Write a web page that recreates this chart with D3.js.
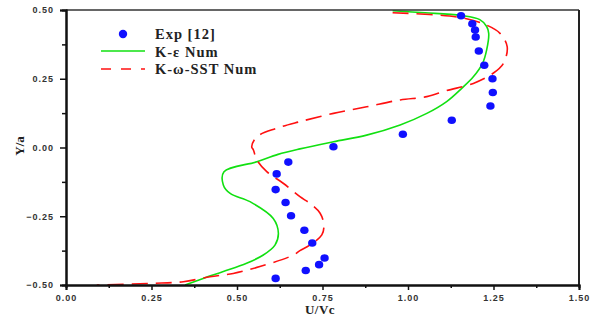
<!DOCTYPE html>
<html>
<head>
<meta charset="utf-8">
<script src="https://cdn.jsdelivr.net/npm/d3@7"></script>
<style>
  body { margin: 0; background: #fff; }
  svg { display: block; }
  .tick text { font-family: "Liberation Sans", Arial, sans-serif; font-weight: bold; font-size: 9px; fill: #333; letter-spacing: 1px; }
  .lbl { font-family: "Liberation Serif", "Times New Roman", serif; font-weight: bold; fill: #222; }
</style>
</head>
<body>
<div id="chart"></div>
<script>
const W = 600
const H = 322

// x / y tick values
const xTicks = [0, 0.25, 0.5, 0.75, 1.0, 1.25, 1.5]
const xMinor = [0.125, 0.375, 0.625, 0.875, 1.125, 1.375]
const yTicks = [-0.5, -0.25, 0, 0.25, 0.5]
const yMinor = [-0.375, -0.125, 0.125, 0.375]

// Exp [12]
const expU = [1.155, 1.188, 1.196, 1.198, 1.207, 1.223, 1.247, 1.248, 1.241, 1.128, 0.985, 0.782,
  0.650, 0.616, 0.613, 0.642, 0.658, 0.697, 0.720, 0.756, 0.740, 0.701, 0.613]
const expY = [0.479, 0.45, 0.427, 0.402, 0.351, 0.299, 0.25, 0.20, 0.151, 0.099, 0.048, 0.003,
  -0.053, -0.096, -0.153, -0.2, -0.248, -0.301, -0.347, -0.402, -0.426, -0.447, -0.476]

// K-eps Num
const keU = [0.955, 1.05, 1.155, 1.21, 1.23, 1.236, 1.23, 1.218, 1.191, 1.157, 1.113, 1.055, 0.977,
  0.879, 0.782, 0.684, 0.62, 0.558, 0.462, 0.460, 0.48, 0.538, 0.606, 0.621, 0.611, 0.577, 0.528,
  0.46, 0.401, 0.348]
const keY = [0.497, 0.49, 0.48, 0.465, 0.44, 0.415, 0.355, 0.306, 0.257, 0.215, 0.167, 0.124, 0.082,
  0.045, 0.021, -0.005, -0.025, -0.052, -0.088, -0.136, -0.167, -0.197, -0.258, -0.312, -0.355,
  -0.391, -0.421, -0.451, -0.476, -0.5]

// K-omega-SST Num
const sstU = [0.955, 1.152, 1.23, 1.269, 1.29, 1.279, 1.249, 1.191, 1.113, 1.055, 0.977, 0.879,
  0.782, 0.684, 0.616, 0.558, 0.543, 0.548, 0.558, 0.587, 0.635, 0.684, 0.713, 0.743, 0.754,
  0.748, 0.713, 0.684, 0.665, 0.567, 0.489, 0.421, 0.343, 0.255, 0.09]
const sstY = [0.49, 0.473, 0.445, 0.415, 0.367, 0.306, 0.27, 0.233, 0.207, 0.185, 0.173, 0.148,
  0.124, 0.094, 0.07, 0.039, 0.003, -0.009, -0.045, -0.088, -0.13, -0.179, -0.203, -0.239, -0.282,
  -0.318, -0.355, -0.375, -0.391, -0.433, -0.458, -0.47, -0.488, -0.494, -0.5]

const GREEN = '#11e011'
const RED = '#ff1010'
const BLUE = '#1010ff'

const x = d3.scaleLinear().domain([0, 1.5]).range([66, 579])
const y = d3.scaleLinear().domain([-0.5, 0.5]).range([285, 10])

const svg = d3.select('#chart').append('svg').attr('width', W).attr('height', H)

const zip = (us, ys) => us.map((u, i) => [u, ys[i]])

const line = d3.line()
  .x((d) => x(d[0]))
  .y((d) => y(d[1]))
  .curve(d3.curveCatmullRom.alpha(0.5))

// curves
svg.append('path')
  .datum(zip(keU, keY))
  .attr('d', line)
  .attr('fill', 'none')
  .attr('stroke', GREEN)
  .attr('stroke-width', 1.6)

svg.append('path')
  .datum(zip(sstU, sstY))
  .attr('d', line)
  .attr('fill', 'none')
  .attr('stroke', RED)
  .attr('stroke-width', 1.6)
  .attr('stroke-dasharray', '16,8')

svg.append('g')
  .selectAll('ellipse')
  .data(zip(expU, expY))
  .enter()
  .append('ellipse')
  .attr('cx', (d) => x(d[0]))
  .attr('cy', (d) => y(d[1]))
  .attr('rx', 4.2)
  .attr('ry', 3.8)
  .attr('fill', BLUE)

// frame (top + right)
svg.append('line')
  .attr('x1', x(0)).attr('x2', x(1.5)).attr('y1', y(0.5)).attr('y2', y(0.5))
  .attr('stroke', '#333').attr('stroke-width', 1.5)
svg.append('line')
  .attr('x1', x(1.5)).attr('x2', x(1.5)).attr('y1', y(0.5)).attr('y2', y(-0.5))
  .attr('stroke', '#222').attr('stroke-width', 2)

// axes
svg.append('g')
  .attr('transform', `translate(0,${y(-0.5)})`)
  .call(d3.axisBottom(x).tickValues(xTicks).tickFormat(d3.format('.2f')).tickSize(5).tickPadding(5))
svg.append('g')
  .attr('transform', `translate(0,${y(-0.5)})`)
  .call(d3.axisBottom(x).tickValues(xMinor).tickFormat('').tickSize(3))

svg.append('g')
  .attr('transform', `translate(${x(0)},0)`)
  .call(d3.axisLeft(y).tickValues(yTicks).tickFormat(d3.format('.2f')).tickSize(6).tickPadding(6))
svg.append('g')
  .attr('transform', `translate(${x(0)},0)`)
  .call(d3.axisLeft(y).tickValues(yMinor).tickFormat('').tickSize(4))

svg.selectAll('.domain').attr('stroke', '#111').attr('stroke-width', 2)
svg.selectAll('.tick line').attr('stroke', '#111').attr('stroke-width', 1.5)

// axis titles
svg.append('text')
  .attr('class', 'lbl')
  .attr('x', 320).attr('y', 314)
  .attr('text-anchor', 'middle')
  .attr('font-size', 13)
  .attr('letter-spacing', 0.5)
  .text('U/Vc')

svg.append('text')
  .attr('class', 'lbl')
  .attr('transform', 'translate(24,146) rotate(-90)')
  .attr('text-anchor', 'middle')
  .attr('font-size', 13)
  .text('Y/a')

// legend
const legend = svg.append('g')
legend.append('circle').attr('cx', 123).attr('cy', 34).attr('r', 4.2).attr('fill', BLUE)
legend.append('line')
  .attr('x1', 101).attr('x2', 145).attr('y1', 51).attr('y2', 51)
  .attr('stroke', GREEN).attr('stroke-width', 1.6)
legend.append('line')
  .attr('x1', 101).attr('x2', 145).attr('y1', 69).attr('y2', 69)
  .attr('stroke', RED).attr('stroke-width', 1.6).attr('stroke-dasharray', '10,10')

const legendLabels = ['Exp [12]', 'K-\u03b5 Num', 'K-\u03c9-SST Num']
legend.selectAll('text.leg')
  .data(legendLabels)
  .enter()
  .append('text')
  .attr('class', 'lbl leg')
  .attr('x', 155)
  .attr('y', (d, i) => 39 + i * 17.5)
  .attr('font-size', 14.5)
  .attr('letter-spacing', 1)
  .text((d) => d)
</script>
</body>
</html>
